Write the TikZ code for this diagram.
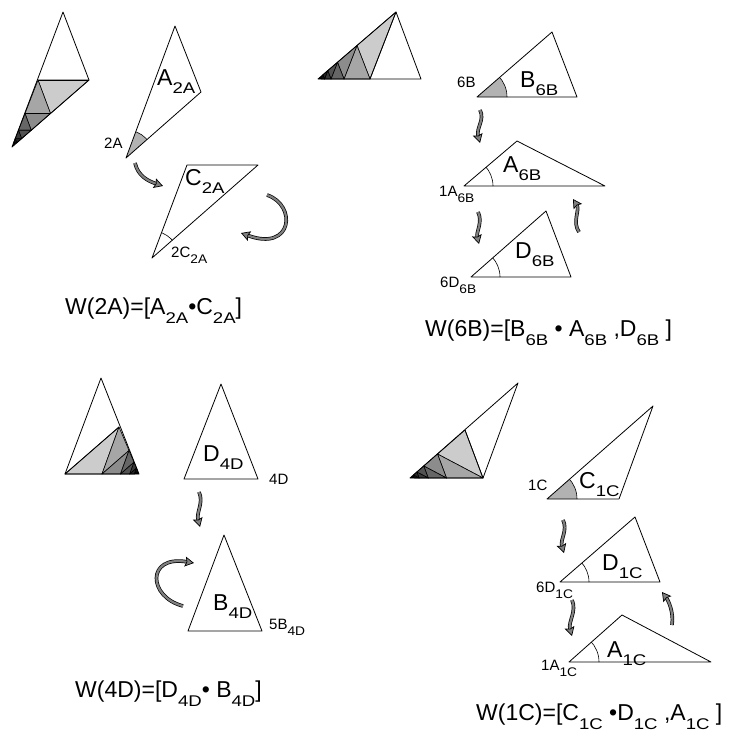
\documentclass[tikz,border=0pt]{standalone}
\usepackage{fontspec}
\setmainfont{Liberation Sans}
\usetikzlibrary{arrows.meta,calc}

\newcommand\SubTxt[2]{\raisebox{#1}{\scalebox{1.2}[1]{\fontsize{15.5}{15.5}\selectfont #2}}}
\newcommand\Lbl[2]{{\fontsize{23}{23}\selectfont #1\SubTxt{-8.5pt}{#2}}}
\newcommand\Sml[2]{{\fontsize{15}{15}\selectfont #1\raisebox{-6pt}{\scalebox{1.1}[1]{\fontsize{12.5}{12.5}\selectfont #2}}}}
\newcommand\Sb[1]{\SubTxt{-9pt}{#1}}

\tikzset{
 tri/.style={draw=black, line width=0.8pt, line join=round},
 frac/.style={draw=black, line width=0.6pt, line join=round},
 anglefill/.style={fill=black!30},
 fancy/.style={draw=black, line width=0.7pt, double=black!50, double distance=2.2pt,
   -{Stealth[length=9pt, width=10pt, fill=black!50, inset=1.5pt]}},
 lbl/.style={anchor=base west, inner sep=0pt},
 small/.style={lbl, font=\fontsize{15}{15}\selectfont},
 formula/.style={lbl, font=\fontsize{23}{23}\selectfont},
}

\newcommand\fractal[6]{%
 \foreach \s/\cl/\cm in {1/20/35, 0.5/45/60, 0.25/68/78, 0.125/85/92}{%
  \begin{scope}[shift={(#1,#2)}, scale=\s]
   \filldraw[frac, fill=black!\cl] (#3,#4) -- (#5,#6) -- ({(#3)/2},{(#4)/2}) -- cycle;
   \filldraw[frac, fill=black!\cm] (#5,#6) -- ({(#3)/2},{(#4)/2}) -- ({(#5)/2},{(#6)/2}) -- cycle;
  \end{scope}}%
 \fill[black] (#1,#2) -- ({#1+(#3)/16},{#2+(#4)/16}) -- ({#1+(#5)/16},{#2+(#6)/16}) -- cycle;
}

\newcommand\angmark[5]{% style, V, P1, P2, radius
 \begin{scope}
  \clip (#2) -- (#3) -- (#4) -- cycle;
  \fill[#1] (#2) circle[radius=#5];
  \draw[line width=0.6pt] (#2) circle[radius=#5];
 \end{scope}
}

\begin{document}
\begin{tikzpicture}[x=1pt, y=-1pt]
\path[use as bounding box] (0,0) rectangle (737,736);

% ---------------- Panel 1 (2A) ----------------
\fractal{12}{147}{77}{-67}{26}{-67}
\draw[tri] (63,12) -- (89,80) -- (12,147) -- cycle;
\draw[tri] (38,80) -- (89,80);

\coordinate (a2aV) at (126,158);
\coordinate (a2aT) at (175,26);
\coordinate (a2aR) at (201,92);
\angmark{anglefill}{a2aV}{a2aT}{a2aR}{28}
\draw[tri] (a2aV) -- (a2aT) -- (a2aR) -- cycle;
\node[lbl] (la2a) at (157,85) {\Lbl{A}{2A}};
\node[small] (t2a) at (104,148) {2A};

\coordinate (c2aL) at (187,165);
\coordinate (c2aR) at (258,165);
\coordinate (c2aV) at (152,258);
\angmark{fill=none}{c2aV}{c2aL}{c2aR}{27}
\draw[tri] (c2aV) -- (c2aL) -- (c2aR) -- cycle;
\node[lbl] (lc2a) at (185,185) {\Lbl{C}{2A}};
\node[lbl] (t2c) at (171,257) {\Sml{2C}{2A}};

\coordinate (ar1s) at (135,163);
\coordinate (ar1e) at (163,186);
\draw[fancy] (ar1s) .. controls (138,176) and (148,181) .. (ar1e);
\coordinate (rot1s) at (267,195);
\coordinate (rot1e) at (241,233);
\draw[fancy] (rot1s) .. controls (297,205) and (293,252) .. (rot1e);

\node[formula] (w2a) at (65,314) {W(2A)=[A\Sb{2A}•C\Sb{2A}]};

% ---------------- Panel 2 (6B) ----------------
\fractal{318}{79}{78}{-67}{52}{0}
\draw[tri] (318,79) -- (396,12) -- (421,79) -- cycle;
\draw[tri] (396,12) -- (370,79);

\coordinate (b6bV) at (477,97);
\coordinate (b6bT) at (552,32);
\coordinate (b6bR) at (577,97);
\angmark{anglefill}{b6bV}{b6bT}{b6bR}{30}
\draw[tri] (b6bV) -- (b6bT) -- (b6bR) -- cycle;
\node[lbl] (lb6b) at (520,87) {\Lbl{B}{6B}};
\node[small] (t6b) at (457,87) {6B};

\coordinate (a6bV) at (464,186);
\coordinate (a6bT) at (517,141);
\coordinate (a6bR) at (605,186);
\angmark{fill=none}{a6bV}{a6bT}{a6bR}{29}
\draw[tri] (a6bV) -- (a6bT) -- (a6bR) -- cycle;
\node[lbl] (la6b) at (503,172) {\Lbl{A}{6B}};
\node[lbl] (t1a) at (439,196) {\Sml{1A}{6B}};

\coordinate (d6bV) at (471,277);
\coordinate (d6bT) at (546,211);
\coordinate (d6bR) at (571,277);
\angmark{fill=none}{d6bV}{d6bT}{d6bR}{29}
\draw[tri] (d6bV) -- (d6bT) -- (d6bR) -- cycle;
\node[lbl] (ld6b) at (515,258) {\Lbl{D}{6B}};
\node[lbl] (t6d) at (440,287) {\Sml{6D}{6B}};

\coordinate (ar2s) at (480,110);
\coordinate (ar2e) at (480,143);
\draw[fancy] (ar2s) .. controls (485,120) and (476,128) .. (ar2e);
\coordinate (ar3s) at (478,212);
\coordinate (ar3e) at (479,244);
\draw[fancy] (ar3s) .. controls (483,222) and (476,232) .. (ar3e);
\coordinate (ar4s) at (579,232);
\coordinate (ar4e) at (573,199);
\draw[fancy] (ar4s) .. controls (572,222) and (580,210) .. (ar4e);

\node[formula] (w6b) at (425,336) {W(6B)=[B\Sb{6B} • A\Sb{6B} ,D\Sb{6B} ]};

% ---------------- Panel 3 (4D) ----------------
\fractal{139}{474}{-74}{0}{-20}{-47}
\draw[tri] (101,378) -- (65,474) -- (139,474) -- cycle;
\draw[tri] (65,474) -- (119,427);

\coordinate (d4dT) at (221,384);
\coordinate (d4dL) at (184,479);
\coordinate (d4dR) at (258,479);
\draw[tri] (d4dT) -- (d4dL) -- (d4dR) -- cycle;
\node[lbl] (ld4d) at (203,461) {\Lbl{D}{4D}};
\node[small] (t4d) at (269,484) {4D};

\coordinate (b4dT) at (224,535);
\coordinate (b4dL) at (188,631);
\coordinate (b4dR) at (262,631);
\draw[tri] (b4dT) -- (b4dL) -- (b4dR) -- cycle;
\node[lbl] (lb4d) at (213,610) {\Lbl{B}{4D}};
\node[lbl] (t5b) at (269,629) {\Sml{5B}{4D}};

\coordinate (ar5s) at (199,492);
\coordinate (ar5e) at (200,527);
\draw[fancy] (ar5s) .. controls (204,503) and (196,512) .. (ar5e);
\coordinate (rot2s) at (183,606);
\coordinate (rot2e) at (194,563);
\draw[fancy] (rot2s) .. controls (148,597) and (146,555) .. (rot2e);

\node[formula] (w4d) at (75,697) {W(4D)=[D\Sb{4D}• B\Sb{4D}]};

% ---------------- Panel 4 (1C) ----------------
\fractal{410}{478}{55}{-48}{73}{0}
\draw[tri] (410,478) -- (518,383) -- (483,478) -- cycle;
\draw[tri] (465,430) -- (483,478);

\coordinate (c1cV) at (547,499);
\coordinate (c1cT) at (653,406);
\coordinate (c1cR) at (619,499);
\angmark{anglefill}{c1cV}{c1cT}{c1cR}{30}
\draw[tri] (c1cV) -- (c1cT) -- (c1cR) -- cycle;
\node[lbl] (lc1c) at (579,488) {\Lbl{C}{1C}};
\node[small] (t1c) at (528,490) {1C};

\coordinate (d1cV) at (560,582);
\coordinate (d1cT) at (635,517);
\coordinate (d1cR) at (660,582);
\angmark{fill=none}{d1cV}{d1cT}{d1cR}{29}
\draw[tri] (d1cV) -- (d1cT) -- (d1cR) -- cycle;
\node[lbl] (ld1c) at (602,570) {\Lbl{D}{1C}};
\node[lbl] (t6d1) at (536,592) {\Sml{6D}{1C}};

\coordinate (a1cV) at (569,662);
\coordinate (a1cT) at (622,615);
\coordinate (a1cR) at (711,662);
\angmark{fill=none}{a1cV}{a1cT}{a1cR}{30}
\draw[tri] (a1cV) -- (a1cT) -- (a1cR) -- cycle;
\node[lbl] (la1c) at (607,657) {\Lbl{A}{1C}};
\node[lbl] (t1a1) at (541,670) {\Sml{1A}{1C}};

\coordinate (ar6s) at (563,520);
\coordinate (ar6e) at (564,553);
\draw[fancy] (ar6s) .. controls (568,530) and (560,540) .. (ar6e);
\coordinate (ar7s) at (572,600);
\coordinate (ar7e) at (572,636);
\draw[fancy] (ar7s) .. controls (577,611) and (568,622) .. (ar7e);
\coordinate (ar8s) at (672,625);
\coordinate (ar8e) at (662,592);
\draw[fancy] (ar8s) .. controls (674,612) and (668,600) .. (ar8e);

\node[formula] (w1c) at (476,720) {W(1C)=[C\Sb{1C} •D\Sb{1C} ,A\Sb{1C} ]};
\end{tikzpicture}
\end{document}
